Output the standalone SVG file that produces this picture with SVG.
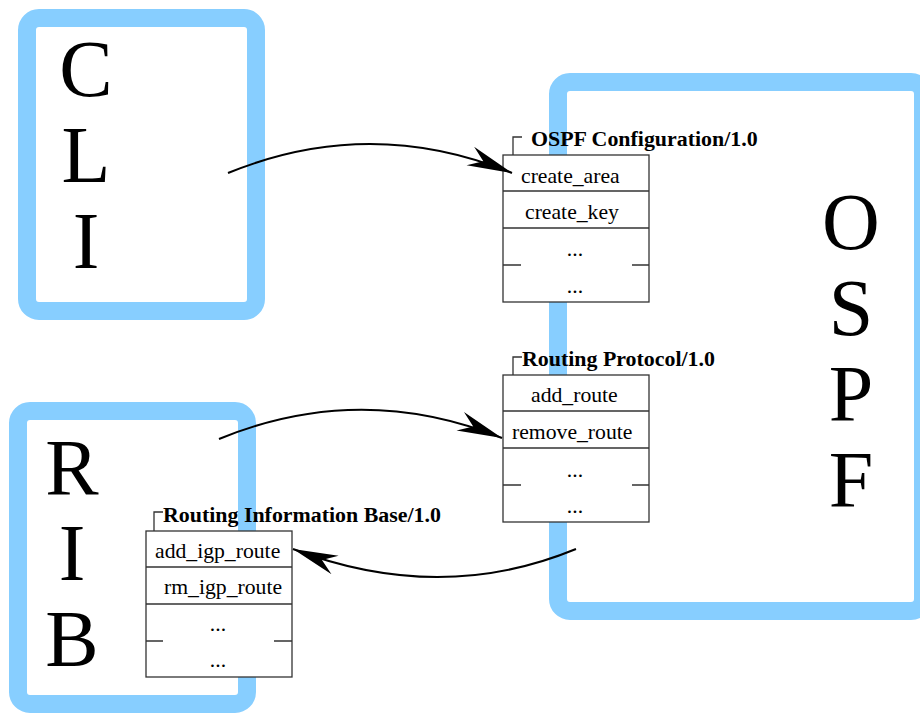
<svg xmlns="http://www.w3.org/2000/svg" width="920" height="713" viewBox="0 0 920 713">
<style>
.frame{fill:#ffffff;stroke:#87CEFF;stroke-width:18}
.big{font-family:"Liberation Serif","Times New Roman",serif;font-size:80px;fill:#000;text-anchor:middle}
.box{fill:#ffffff;stroke:#333;stroke-width:1.3}
.ln{fill:none;stroke:#333;stroke-width:1.3}
.lbl{font-family:"Liberation Serif","Times New Roman",serif;font-size:21.9px;font-weight:bold;fill:#000}
.txt{font-family:"Liberation Serif","Times New Roman",serif;font-size:21.7px;fill:#000}
.mid{text-anchor:middle}
.arr{fill:none;stroke:#000;stroke-width:2}
</style>
<defs>
<marker id="head" viewBox="-48 -12 50 24" refX="0" refY="0" markerWidth="50" markerHeight="24" markerUnits="userSpaceOnUse" orient="auto">
<path d="M0,0 L-45,-10 L-31,0 L-45,10 Z" fill="#000"/>
</marker>
</defs>
<g id="cli">
<rect class="frame" x="27" y="18" width="229" height="293" rx="12"/>
<text class="big" x="86" y="96">C</text>
<text class="big" x="86" y="182">L</text>
<text class="big" x="86" y="268">I</text>
</g>
<g id="rib">
<rect class="frame" x="18" y="411" width="229" height="293" rx="12"/>
<text class="big" x="72" y="495">R</text>
<text class="big" x="72" y="580">I</text>
<text class="big" x="72" y="666">B</text>
</g>
<g id="ospf">
<rect class="frame" x="558" y="82" width="365" height="529" rx="12"/>
<text class="big" x="851" y="249">O</text>
<text class="big" x="851" y="335">S</text>
<text class="big" x="851" y="421">P</text>
<text class="big" x="851" y="507">F</text>
</g>
<g id="ospf-config">
<path class="ln" d="M513,155 V137 H522"/>
<text class="lbl" x="531" y="146">OSPF Configuration/1.0</text>
<rect class="box" x="503" y="155" width="146" height="147"/>
<path class="ln" d="M503,191 H649 M503,228 H649 M503,265 H521 M632,265 H649"/>
<text class="txt" x="521" y="183">create_area</text>
<text class="txt" x="525" y="219">create_key</text>
<text class="txt mid" x="575" y="256">...</text>
<text class="txt mid" x="575" y="293">...</text>
</g>
<g id="routing-protocol">
<path class="ln" d="M513,375 V357 H522"/>
<text class="lbl" x="522" y="366">Routing Protocol/1.0</text>
<rect class="box" x="503" y="375" width="146" height="147"/>
<path class="ln" d="M503,411 H649 M503,448 H649 M503,485 H521 M632,485 H649"/>
<text class="txt" x="531" y="402">add_route</text>
<text class="txt" x="512" y="439">remove_route</text>
<text class="txt mid" x="575" y="477">...</text>
<text class="txt mid" x="575" y="513">...</text>
</g>
<g id="rib-interface">
<path class="ln" d="M154,531 V512 H163"/>
<text class="lbl" x="163" y="522">Routing Information Base/1.0</text>
<rect class="box" x="146" y="531" width="146" height="146"/>
<path class="ln" d="M146,567 H292 M146,604 H292 M146,641 H163 M274,641 H292"/>
<text class="txt" x="155" y="558">add_igp_route</text>
<text class="txt" x="164" y="594">rm_igp_route</text>
<text class="txt mid" x="218" y="631">...</text>
<text class="txt mid" x="218" y="667">...</text>
</g>
<g id="connectors">
<path class="arr" d="M228,173 Q370,115 512,173" marker-end="url(#head)"/>
<path class="arr" d="M219,439 Q360,381 502,438" marker-end="url(#head)"/>
<path class="arr" d="M576,549 Q440,605 293,549" marker-end="url(#head)"/>
</g>
</svg>
